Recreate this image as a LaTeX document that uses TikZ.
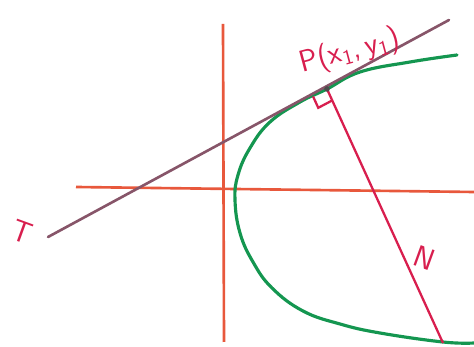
\documentclass[tikz,border=0pt]{standalone}
\usepackage{tikz}
\usetikzlibrary{calc}
\definecolor{axisred}{RGB}{232,88,60}
\definecolor{tanmauve}{RGB}{135,85,105}
\definecolor{curvegreen}{RGB}{20,150,80}
\definecolor{normred}{RGB}{216,30,78}

\begin{document}
\begin{tikzpicture}[x=0.02cm,y=-0.02cm]
\useasboundingbox (0,0) rectangle (474,347);
% axes
\draw[axisred,line width=1.5pt] (76,187) -- (474,192);
\draw[axisred,line width=1.5pt] (223,24) -- (224,342);
% parabola
\draw[curvegreen,line width=1.8pt,line cap=round] plot[smooth,tension=0.7] coordinates
  {(457,55) (410,62) (360,72) (327,89) (300,102) (270,122) (250,148) (238,175) (235,200)
   (240,233) (253,262) (272,288) (303,311) (340,324) (380,333) (443,342) (474,343)};
% tangent and normal
\coordinate (P) at (327,89);
\coordinate (T) at (48,237);
\coordinate (Tend) at (449,20);
\coordinate (N) at (443,343);
\draw[tanmauve,line width=1.5pt,line cap=round] (T) -- (Tend);
\draw[normred,line width=1.3pt] (P) -- (N);
% right angle mark
\coordinate (ra) at ($(P)!0.05!(T)$);
\coordinate (rb) at ($(P)!0.045!(N)$);
\draw[normred,line width=1.3pt] (ra) -- ($(ra)+(rb)-(P)$) -- (rb);
\fill[black!70] (P) circle (1.6pt);
% labels
\node[normred,font=\LARGE\sffamily,rotate=15] (plabel) at (350,52) {P(x\textsubscript{1},\,y\textsubscript{1})};
\node[normred,font=\LARGE\sffamily,rotate=-20] (tlabel) at (22,232) {T};
\node[normred,font=\LARGE\sffamily,rotate=-20] (nlabel) at (425,258) {N};
\end{tikzpicture}
\end{document}
